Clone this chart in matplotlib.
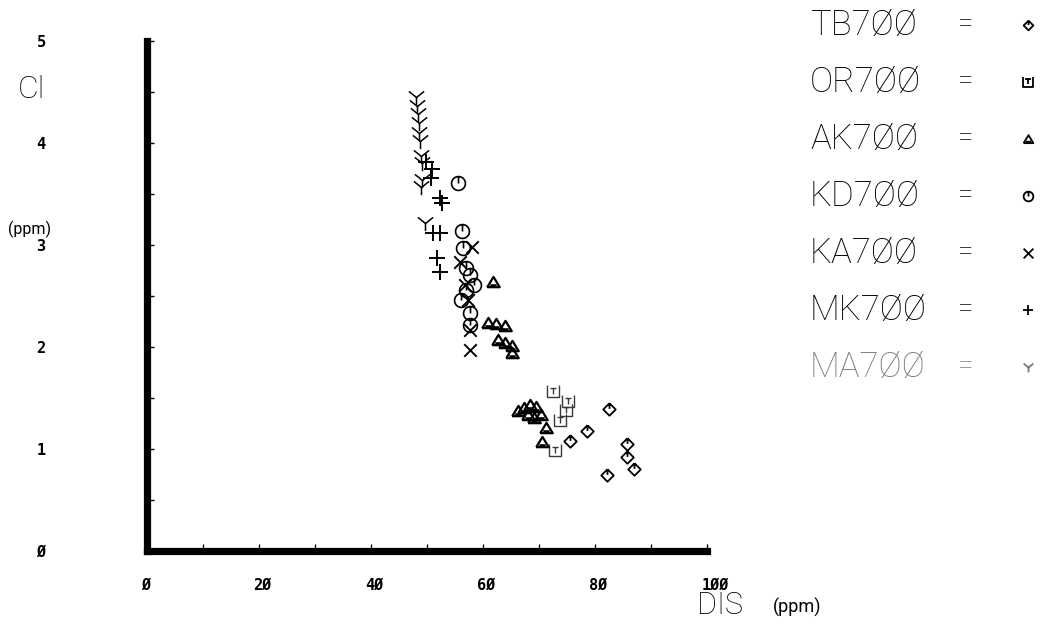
#!/usr/bin/env python3
"""Cl vs DIS scatter for the 700 m sampling sites, plotter style."""

import matplotlib
matplotlib.use('Agg')
import matplotlib.pyplot as plt
import numpy as np
from matplotlib.path import Path
from matplotlib.transforms import ScaledTranslation


# ---------------------------------------------------------------------------
# data (DIS ppm, Cl ppm)
# ---------------------------------------------------------------------------

SITES = ['TB700', 'OR700', 'AK700', 'KD700', 'KA700', 'MK700', 'MA700']
SITE_TEXT = ['TB7ØØ', 'OR7ØØ', 'AK7ØØ', 'KD7ØØ', 'KA7ØØ', 'MK7ØØ', 'MA7ØØ']

tb_dis = [75.5, 78.6, 82.5, 85.7, 85.7, 87.0, 82.1]
tb_cl = [1.08, 1.18, 1.39, 1.05, 0.92, 0.80, 0.75]

or_dis = [72.5, 75.2, 74.8, 73.8, 72.9]
or_cl = [1.57, 1.47, 1.38, 1.28, 0.99]

ak_dis = [61.8, 60.9, 62.3, 63.9, 62.7, 63.9, 65.2, 65.2,
          66.3, 67.3, 68.4, 69.5, 68.0, 69.1, 70.4, 71.3, 70.5]
ak_cl = [2.64, 2.24, 2.23, 2.21, 2.07, 2.04, 2.01, 1.94,
         1.37, 1.40, 1.43, 1.41, 1.33, 1.30, 1.33, 1.21, 1.07]

kd_dis = [55.5, 56.2, 56.4, 57.0, 57.7, 58.4, 57.0, 56.1, 57.7, 57.7]
kd_cl = [3.61, 3.14, 2.97, 2.77, 2.71, 2.61, 2.56, 2.46, 2.33, 2.22]

ka_dis = [58.0, 55.9, 56.8, 57.3, 57.7, 57.7]
ka_cl = [2.98, 2.83, 2.61, 2.46, 2.17, 1.97]

mk_dis = [49.8, 50.9, 50.7, 52.3, 52.7, 51.1, 52.3, 51.8, 52.3]
mk_cl = [3.81, 3.75, 3.66, 3.46, 3.41, 3.12, 3.12, 2.87, 2.74]

ma_dis = [48.0, 48.2, 48.4, 48.5, 48.5, 48.7, 48.9, 49.1, 49.1, 48.9, 49.6]
ma_cl = [4.45, 4.36, 4.28, 4.20, 4.10, 4.02, 3.87, 3.80, 3.64, 3.57, 3.22]

X_TICKS = [0, 20, 40, 60, 80, 100]
X_TICK_TEXT = ['Ø', '2Ø', '4Ø', '6Ø', '8Ø', '1ØØ']
Y_TICKS = [0, 1, 2, 3, 4, 5]
Y_TICK_TEXT = ['Ø', '1', '2', '3', '4', '5']


# ---------------------------------------------------------------------------
# plotter-like marker glyphs
# ---------------------------------------------------------------------------

def segs(*polylines, closed=()):
    verts, codes = [], []
    for i, pl in enumerate(polylines):
        for j, v in enumerate(pl):
            verts.append(v)
            codes.append(Path.MOVETO if j == 0 else Path.LINETO)
        if i in closed:
            verts.append(pl[0])
            codes.append(Path.LINETO)
    return Path(verts, codes)


def circle_tick():
    t = np.linspace(0, 2 * np.pi, 33)
    ring = list(zip(np.cos(t), np.sin(t)))
    return segs(ring, [(0, 0), (0, 1)])


MARKERS = {
    'TB700': segs([(0, 1), (1, 0), (0, -1), (-1, 0)], [(0, 0.1), (0, 0.95)], closed=(0,)),
    'OR700': segs([(-1, 1), (-1, -1), (1, -1), (1, 1)], [(-0.55, 0.55), (0.55, 0.55)],
                  [(0, 0.55), (0, -0.45)]),
    'AK700': segs([(-1, -0.75), (1, -0.75), (0, 0.9)], [(-0.5, -0.45), (0.5, -0.45)],
                  closed=(0,)),
    'KD700': circle_tick(),
    'KA700': segs([(-1, -1), (1, 1)], [(-1, 1), (1, -1)]),
    'MK700': segs([(-1, 0), (1, 0)], [(0, -1), (0, 1)]),
    'MA700': segs([(-1, 0.8), (0, 0), (1, 0.8)], [(0, 0), (0, -1)]),
}

SERIES = [
    ('TB700', tb_dis, tb_cl, 9, 1.3, 'black'),
    ('OR700', or_dis, or_cl, 9, 1.0, '#3a3a3a'),
    ('AK700', ak_dis, ak_cl, 9, 1.6, 'black'),
    ('KD700', kd_dis, kd_cl, 10, 1.2, 'black'),
    ('KA700', ka_dis, ka_cl, 9, 1.4, 'black'),
    ('MK700', mk_dis, mk_cl, 11, 1.4, 'black'),
    ('MA700', ma_dis, ma_cl, 11, 1.1, 'black'),
]

LABEL_FONT = ['Roboto', 'DejaVu Sans']


# ---------------------------------------------------------------------------
# figure
# ---------------------------------------------------------------------------

fig = plt.figure(figsize=(10.51, 6.34), dpi=100)
fig.patch.set_facecolor('white')

ax = fig.add_axes([147 / 1051, 83 / 634, 560 / 1051, 510 / 634])
ax.set_xlim(0, 100)
ax.set_ylim(0, 5)

for name, xs, ys, ms, lw, col in SERIES:
    ax.plot(xs, ys, linestyle='none', marker=MARKERS[name], markersize=ms,
            markeredgewidth=lw, markeredgecolor=col, markerfacecolor='none',
            zorder=3)

# heavy plotter axes, open at top and right
for side in ('top', 'right'):
    ax.spines[side].set_visible(False)
for side in ('left', 'bottom'):
    ax.spines[side].set_linewidth(5.2)
    ax.spines[side].set_capstyle('projecting')

ax.set_xticks(np.arange(0, 101, 10), minor=True)
ax.set_yticks(np.arange(0, 5.01, 0.5), minor=True)
ax.set_xticks(X_TICKS)
ax.set_xticklabels(X_TICK_TEXT)
ax.set_yticks(Y_TICKS)
ax.set_yticklabels(Y_TICK_TEXT)
ax.tick_params(which='both', direction='in', length=5, width=1.0, color='black')
ax.tick_params(axis='x', which='major', pad=19)
ax.tick_params(axis='y', which='major', pad=73)
for lab in ax.get_xticklabels() + ax.get_yticklabels():
    lab.set_family(['DejaVu Sans Mono'])
    lab.set_fontweight('bold')
    lab.set_fontsize(11)
shift = ScaledTranslation(-4 / 72, 0, fig.dpi_scale_trans)
for lab in ax.get_xticklabels():
    lab.set_horizontalalignment('left')
    lab.set_transform(lab.get_transform() + shift)

# axis titles
fig.text(31 / 1051, 1 - 90 / 634, 'Cl', family=LABEL_FONT, fontweight='light',
         fontsize=23, ha='center', va='center')
fig.text(30 / 1051, 1 - 229 / 634, '(ppm)', family=LABEL_FONT, fontsize=11.5,
         ha='center', va='center')
fig.text(720 / 1051, 1 - 605 / 634, 'DIS', family=LABEL_FONT, fontweight='light',
         fontsize=22, ha='center', va='center')
fig.text(797 / 1051, 1 - 607 / 634, '(ppm)', family=LABEL_FONT, fontsize=13,
         ha='center', va='center')

# key on the right
key = fig.add_axes([0, 0, 1, 1])
key.set_xlim(0, 1051)
key.set_ylim(634, 0)
key.axis('off')
for i, (name, text) in enumerate(zip(SITES, SITE_TEXT)):
    y = 25 + 57 * i
    col = '#7a7a7a' if name == 'MA700' else 'black'
    key.text(810, y, text, family=LABEL_FONT, fontweight='light', fontsize=25,
             ha='left', va='center', color=col)
    key.text(966, y, '=', family=LABEL_FONT, fontweight='light', fontsize=20,
             ha='center', va='center', color=col)
    key.plot([1028], [y], linestyle='none', marker=MARKERS[name], markersize=7,
             markeredgewidth=1.3, markeredgecolor=col, markerfacecolor='none')

fig.savefig('out.png', dpi=100, facecolor='white')
